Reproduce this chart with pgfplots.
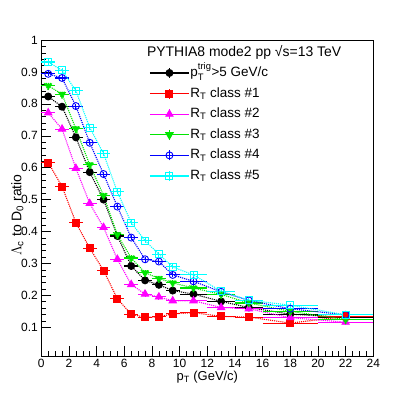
\documentclass[border=0pt]{standalone}
\usepackage{fontspec}
\setmainfont{Liberation Sans}
\usepackage{amsmath}
\usepackage{pgfplots}
\usepackage{pgfplotstable}
\pgfplotsset{compat=1.18}

\definecolor{rBlue}{RGB}{0,0,255}
\definecolor{rCyan}{RGB}{0,255,255}
\definecolor{rGreen}{RGB}{0,230,0}
\definecolor{rMag}{RGB}{255,0,255}

% x  ex  ey  then one column per curve
\pgfplotstableread{
x    ex   ey     blk    red    mag    grn    blu    cyn
0.5  0.5  0.008  0.823  0.616  0.772  0.857  0.894  0.931
1.5  0.5  0.008  0.791  0.541  0.721  0.830  0.881  0.905
2.5  0.5  0.008  0.695  0.428  0.598  0.722  0.793  0.841
3.5  0.5  0.008  0.586  0.348  0.488  0.609  0.678  0.726
4.5  0.5  0.008  0.500  0.278  0.413  0.513  0.580  0.644
5.5  0.5  0.008  0.386  0.189  0.313  0.390  0.478  0.524
6.5  0.5  0.008  0.292  0.141  0.234  0.317  0.381  0.428
7.5  0.5  0.008  0.247  0.131  0.204  0.271  0.313  0.371
8.5  0.5  0.008  0.233  0.133  0.195  0.253  0.306  0.329
9.5  0.5  0.008  0.215  0.142  0.183  0.239  0.264  0.289
11   1    0.008  0.204  0.146  0.183  0.223  0.244  0.264
13   1    0.008  0.181  0.134  0.162  0.203  0.211  0.213
15   1    0.008  0.162  0.132  0.158  0.176  0.184  0.185
18   2    0.008  0.141  0.113  0.130  0.150  0.158  0.169
22   2    0.008  0.131  0.134  0.116  0.124  0.139  0.139
}\ratios

\pgfplotsset{
  rootstyle/.style={
    densely dotted, line width=1.1pt,
    every mark/.append style={solid, line width=0.9pt},
    error bars/x dir=both, error bars/x explicit,
    error bars/y dir=both, error bars/y explicit,
    error bars/error mark=none,
    error bars/error bar style={solid, line width=1.1pt},
  },
  rootleg/.style={
    legend image code/.code={
      \draw[solid, line width=1.1pt] (19.5bp,-5bp) -- (19.5bp,5bp);
      \draw[solid, line width=1.1pt, mark repeat=2, mark phase=2]
        plot coordinates {(0bp,0bp) (19.5bp,0bp) (39bp,0bp)};
    }
  },
}

\begin{document}
\begin{tikzpicture}
\begin{axis}[
  scale only axis, width=332bp, height=316bp,
  xmin=0, xmax=24, ymin=0.01, ymax=1,
  xtick={0,2,...,24}, ytick={0.1,0.2,...,1.0},
  minor x tick num=3, minor y tick num=4,
  tick align=inside, xtick pos=bottom, ytick pos=left,
  major tick length=10bp, minor tick length=5bp,
  every tick/.style={black, line width=0.5pt},
  axis line style={line width=0.7pt},
  /pgf/number format/assume math mode=true,
  /pgf/number format/fixed, /pgf/number format/precision=1,
  ticklabel style={font=\fontsize{12}{14}\selectfont},
  xlabel={p$_{\text{T}}$ (GeV/c)},
  ylabel={$\Lambda$$_{\text{c}}$ to D$_{\text{0}}$ ratio},
  label style={font=\fontsize{13}{15}\selectfont},
  xlabel style={at={(rel axis cs:0.5,-0.068)}, anchor=center},
  ylabel style={at={(rel axis cs:-0.072,0.446)}, anchor=center,
    font=\fontsize{14}{16}\selectfont},
  clip=false,
  legend cell align=left,
  legend style={at={(rel axis cs:0.325,0.92)}, anchor=north west,
    draw=none, fill=none, inner sep=0pt,
    font=\fontsize{13.5}{16}\selectfont, row sep=5.6bp,
    nodes={inner sep=1bp, text height=10bp, text depth=3bp},
    /tikz/every even column/.append style={column sep=9bp}},
]
\addplot[rootstyle, rootleg, black, mark=*, mark size=3.5bp]
  table[x=x, y=blk, x error=ex, y error=ey] {\ratios};
\addlegendentry{p$_{\text{T}}^{\text{trig}}$>5 GeV/c}
\addplot[rootstyle, rootleg, red, mark=square*, mark size=3.5bp]
  table[x=x, y=red, x error=ex, y error=ey] {\ratios};
\addlegendentry{R$_{\text{T}}$ class \#1}
\addplot[rootstyle, rootleg, rMag, mark=triangle*, mark size=4.2bp]
  table[x=x, y=mag, x error=ex, y error=ey] {\ratios};
\addlegendentry{R$_{\text{T}}$ class \#2}
\addplot[rootstyle, rootleg, rGreen, mark=triangle*, mark size=4.2bp,
  mark options={rotate=180}]
  table[x=x, y=grn, x error=ex, y error=ey] {\ratios};
\addlegendentry{R$_{\text{T}}$ class \#3}
\addplot[rootstyle, rootleg, rBlue, mark=o, mark size=3.5bp]
  table[x=x, y=blu, x error=ex, y error=ey] {\ratios};
\addlegendentry{R$_{\text{T}}$ class \#4}
\addplot[rootstyle, rootleg, rCyan, mark=square, mark size=3.5bp]
  table[x=x, y=cyn, x error=ex, y error=ey] {\ratios};
\addlegendentry{R$_{\text{T}}$ class \#5}
\node[anchor=west, font=\fontsize{14}{16}\selectfont, inner sep=0pt]
  at (rel axis cs:0.318,0.962) {PYTHIA8 mode2 pp √s=13 TeV};
\end{axis}
\path ([xshift=-41.3bp,yshift=-41bp]current axis.south west)
  rectangle ([xshift=41.7bp,yshift=40bp]current axis.north east);
\end{tikzpicture}
\end{document}
